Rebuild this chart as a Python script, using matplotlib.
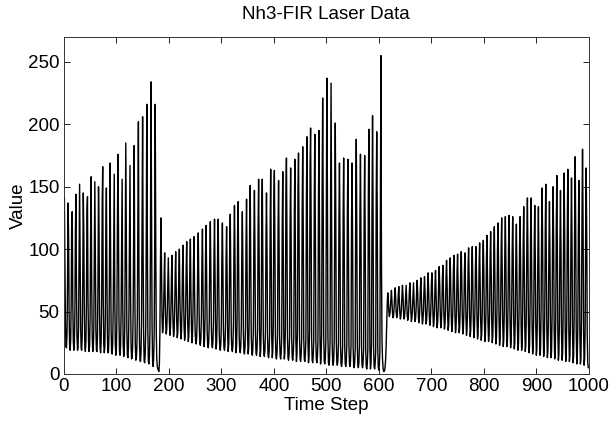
import numpy as np
import matplotlib
matplotlib.use("Agg")
import matplotlib.pyplot as plt

plt.rcParams['font.family'] = ['Liberation Sans', 'DejaVu Sans']

# intensity samples
first_burst = [
    86, 141,
    95, 41, 22, 21, 32, 72, 137,
    111, 48, 23, 19, 27, 59, 129, 130,
    58, 27, 19, 24, 49, 114, 144,
    72, 30, 19, 21, 37, 94, 152,
    96, 37, 20, 19, 31, 74, 145,
    113, 49, 22, 18, 26, 57, 131, 142,
    60, 26, 18, 23, 45, 112, 158,
    75, 30, 18, 19, 35, 91, 154,
    97, 36, 19, 18, 30, 74, 150,
    117, 47, 21, 17, 25, 58, 135, 166,
    62, 24, 17, 21, 45, 114, 149,
    78, 30, 17, 18, 34, 90, 169,
    100, 36, 17, 16, 24, 52, 110, 160,
    64, 24, 15, 19, 43, 118, 176,
    120, 45, 18, 15, 22, 48, 108, 156,
    64, 24, 14, 17, 38, 105, 185,
    105, 35, 15, 13, 21, 50, 112, 167,
    70, 24, 12, 13, 22, 50, 120, 183,
    78, 26, 11, 12, 20, 46, 122, 202,
    86, 28, 11, 10, 18, 42, 118, 206,
    96, 30, 10, 9, 16, 38, 112, 216,
    110, 34, 10, 8, 14, 34, 106, 234,
    130, 40, 10, 6, 12, 30, 98, 216,
]
collapse_1 = [110, 35, 12, 6, 4, 3, 2, 8, 35, 88, 125]
second_burst = [
    82, 46, 33, 37, 52, 76, 97,
    60, 40, 32, 36, 50, 74, 93,
    66, 42, 31, 36, 52, 78, 95,
    58, 40, 30, 34, 50, 78, 98,
    70, 42, 29, 33, 50, 80, 100,
    62, 40, 28, 33, 52, 84, 103,
    64, 38, 27, 31, 50, 84, 106,
    74, 40, 26, 30, 48, 85, 108,
    66, 38, 25, 30, 50, 90, 110,
    66, 36, 26, 24, 29, 46, 88, 113,
    78, 38, 25, 23, 28, 45, 90, 116,
    70, 36, 22, 27, 48, 98, 119,
    72, 34, 23, 21, 26, 43, 95, 122,
    84, 36, 23, 21, 26, 42, 96, 124,
    74, 34, 20, 25, 46, 104, 124,
    76, 32, 21, 19, 24, 40, 94, 121,
    82, 34, 21, 19, 24, 41, 92, 118,
    70, 32, 18, 23, 45, 108, 128,
    78, 30, 20, 18, 23, 40, 100, 135,
    92, 34, 17, 22, 44, 114, 138,
    80, 30, 19, 17, 22, 38, 98, 130,
    88, 32, 18, 16, 21, 37, 104, 140,
    84, 30, 16, 20, 42, 124, 151,
    92, 30, 17, 15, 20, 36, 110, 147,
    100, 32, 17, 15, 20, 36, 116, 156,
    92, 30, 14, 19, 40, 130, 156,
    96, 30, 16, 14, 19, 34, 108, 145,
    98, 30, 15, 13, 18, 34, 120, 164,
    98, 28, 13, 18, 40, 138, 163,
    104, 30, 14, 12, 17, 32, 114, 155,
    102, 28, 14, 12, 17, 32, 120, 162,
    96, 28, 12, 17, 38, 146, 173,
    110, 30, 13, 11, 16, 30, 122, 165,
    106, 28, 13, 11, 16, 30, 126, 172,
    102, 26, 10, 15, 36, 150, 177,
    116, 28, 12, 10, 15, 28, 132, 182,
    118, 28, 12, 10, 15, 28, 138, 190,
    112, 26, 9, 14, 34, 166, 197,
    124, 28, 11, 9, 14, 27, 140, 192,
    122, 26, 11, 9, 14, 27, 142, 195,
    114, 24, 8, 13, 32, 150, 221,
    140, 30, 10, 8, 12, 26, 140, 237,
    150, 30, 9, 7, 11, 24, 130, 233,
    140, 28, 9, 7, 11, 26, 130, 201,
    128, 26, 9, 7, 11, 24, 124, 169,
    108, 24, 8, 6, 10, 22, 126, 173,
    110, 22, 8, 6, 10, 24, 128, 172,
    110, 24, 8, 6, 10, 22, 122, 169,
    108, 22, 7, 5, 9, 20, 136, 188,
    118, 22, 7, 5, 9, 24, 130, 176,
    112, 22, 7, 5, 9, 20, 128, 175,
    112, 20, 6, 4, 8, 19, 142, 196,
    124, 20, 4, 8, 24, 130, 207,
    132, 22, 6, 4, 8, 18, 140, 194,
    124, 20, 5, 3, 7, 18, 150, 255,
]
collapse_2 = [90, 28, 12, 5, 2, 2, 3, 6, 12, 24, 40, 56]
third_burst = [
    65,
    60, 50, 46, 48, 53, 61, 67,
    58, 49, 45, 47, 52, 62, 69,
    62, 50, 45, 47, 53, 63, 70,
    60, 49, 44, 46, 52, 63, 71,
    63, 50, 44, 46, 52, 62, 71,
    60, 48, 43, 45, 52, 64, 73,
    64, 50, 42, 45, 51, 63, 73,
    61, 48, 42, 44, 52, 66, 75,
    65, 50, 41, 44, 52, 67, 77,
    62, 48, 40, 43, 51, 67, 78,
    66, 49, 40, 43, 52, 70, 81,
    64, 48, 39, 42, 51, 70, 81,
    68, 49, 38, 41, 51, 72, 83,
    64, 47, 37, 41, 52, 74, 86,
    70, 49, 37, 40, 51, 75, 87,
    66, 47, 36, 40, 52, 78, 91,
    72, 48, 35, 39, 52, 80, 93,
    68, 46, 34, 38, 52, 82, 95,
    74, 47, 33, 37, 51, 82, 96,
    70, 45, 33, 37, 52, 84, 98,
    76, 46, 32, 36, 50, 82, 97,
    70, 44, 31, 36, 51, 86, 101,
    78, 46, 30, 35, 51, 86, 102,
    72, 43, 29, 34, 50, 86, 102,
    80, 45, 28, 33, 50, 88, 105,
    74, 42, 27, 32, 50, 90, 107,
    82, 44, 26, 31, 50, 92, 111,
    76, 41, 26, 31, 51, 94, 114,
    84, 43, 25, 30, 51, 96, 118,
    78, 40, 24, 29, 51, 98, 121,
    88, 42, 23, 28, 52, 100, 125,
    82, 40, 22, 27, 51, 100, 126,
    90, 42, 22, 27, 52, 100, 127,
    84, 40, 21, 26, 50, 98, 126,
    92, 41, 20, 25, 48, 94, 120,
    80, 38, 19, 24, 49, 98, 126,
    90, 40, 19, 24, 50, 104, 134,
    86, 37, 18, 23, 50, 108, 141,
    98, 40, 17, 22, 50, 108, 141,
    92, 37, 16, 21, 47, 102, 135,
    94, 38, 15, 20, 46, 100, 134,
    88, 35, 15, 20, 48, 112, 149,
    104, 38, 14, 19, 48, 114, 152,
    98, 35, 13, 18, 44, 102, 138,
    92, 33, 13, 18, 46, 110, 150,
    106, 36, 12, 17, 46, 116, 159,
    104, 33, 11, 16, 42, 106, 147,
    98, 32, 11, 16, 44, 116, 161,
    112, 35, 10, 15, 44, 118, 164,
    108, 32, 10, 15, 42, 112, 157,
    104, 31, 9, 14, 44, 124, 174,
    118, 34, 8, 13, 38, 110, 155,
    102, 30, 8, 13, 44, 128, 180,
    124, 34, 7, 12, 38, 116, 165,
    110, 32, 9, 5,
]

values = np.array(first_burst + collapse_1 + second_burst + collapse_2 + third_burst)
steps = np.arange(len(values))

fig = plt.figure(figsize=(6.14, 4.24), dpi=100)
ax = fig.add_axes([0.104, 0.118, 0.855, 0.795])
ax.plot(steps, values, color='k', lw=1.0)

ax.set_xlim(0, 1000)
ax.set_ylim(0, 270)
ax.set_xticks(np.arange(0, 1001, 100))
ax.set_yticks(np.arange(0, 251, 50))
ax.tick_params(direction='in', top=True, right=True, length=4, labelsize=13.5, width=0.6, pad=3)
for s in ax.spines.values():
    s.set_linewidth(0.7)
    s.set_color('#333333')

ax.set_title('Nh3-FIR Laser Data', fontsize=13.5, pad=13)
ax.set_xlabel('Time Step', fontsize=13.5, labelpad=1)
ax.set_ylabel('Value', fontsize=13.5, labelpad=1)

fig.savefig('out.png', dpi=100)
